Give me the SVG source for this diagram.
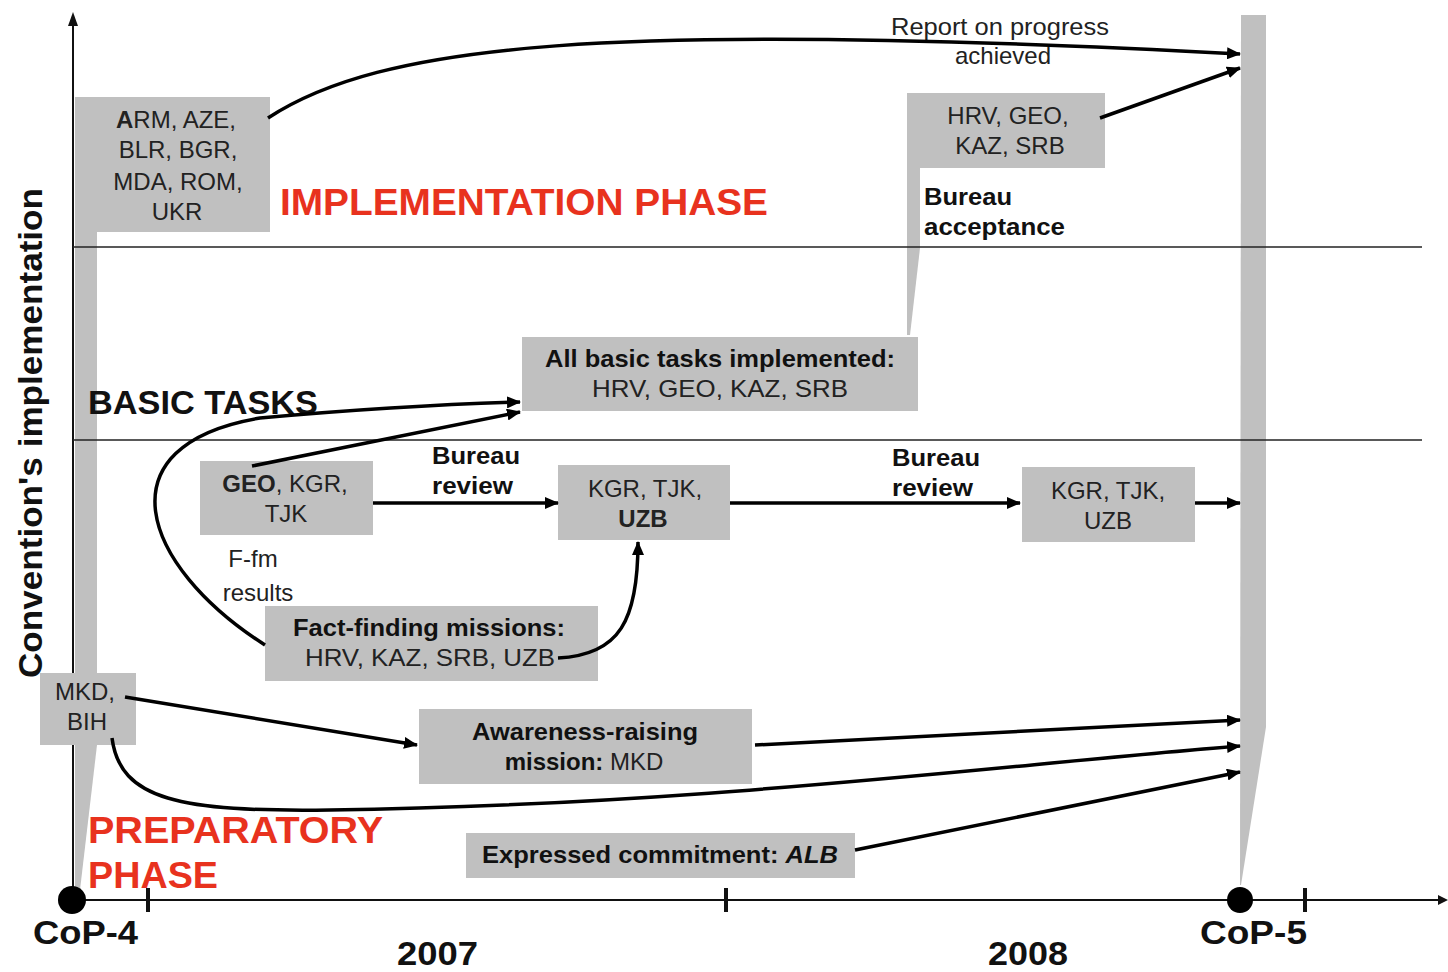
<svg xmlns="http://www.w3.org/2000/svg" width="1448" height="972" viewBox="0 0 1448 972">
<defs>
<marker id="ah" markerUnits="userSpaceOnUse" markerWidth="14" markerHeight="12" refX="13" refY="6" orient="auto">
<path d="M0,0 L14,6 L0,12 z" fill="#000"/>
</marker>
<style>
.box{fill:#c0c0c0}
.band{fill:#c0c0c0}
.t{font-family:"Liberation Sans",Arial,sans-serif;font-size:24px;fill:#222;text-anchor:middle}
.b{font-family:"Liberation Sans",Arial,sans-serif;font-size:24px;font-weight:bold;fill:#111}
.big{font-family:"Liberation Sans",Arial,sans-serif;font-weight:bold;font-size:34px;fill:#111}
.red{font-family:"Liberation Sans",Arial,sans-serif;font-weight:bold;font-size:36px;fill:#e8321e}
.ax{stroke:#111;stroke-width:2;fill:none}
.c{stroke:#000;stroke-width:3.5;fill:none}
.ca{stroke:#000;stroke-width:3.5;fill:none;marker-end:url(#ah)}
</style>
</defs>
<rect width="1448" height="972" fill="#fff"/>

<g id="bands">
<polygon class="band" points="75,97 97,97 97,745 80,890 75,890"/>
<polygon class="band" points="1241,15 1266,15 1266,727 1241,885 1240,885"/>
<polygon class="band" points="907,93 920,93 920,248 910,335 907,335"/>
</g>

<g id="axes">
<line class="ax" x1="73" y1="900" x2="73" y2="24"/>
<polygon points="73,12 68,26 78,26" fill="#111"/>
<line class="ax" x1="72" y1="900" x2="1440" y2="900"/>
<polygon points="1448,900 1438,895 1438,905" fill="#111"/>
<line x1="73" y1="247" x2="1422" y2="247" stroke="#222" stroke-width="1.5"/>
<line x1="73" y1="440" x2="1422" y2="440" stroke="#222" stroke-width="1.5"/>
<line x1="148" y1="888" x2="148" y2="912" stroke="#111" stroke-width="4"/>
<line x1="726" y1="888" x2="726" y2="912" stroke="#111" stroke-width="4"/>
<line x1="1305" y1="888" x2="1305" y2="912" stroke="#111" stroke-width="4"/>
<circle cx="72" cy="900" r="14" fill="#000"/>
<circle cx="1240" cy="900" r="13" fill="#000"/>
<text class="big" x="33" y="944" font-size="32" textLength="105" lengthAdjust="spacingAndGlyphs">CoP-4</text>
<text class="big" x="1200" y="944" font-size="32" textLength="107" lengthAdjust="spacingAndGlyphs">CoP-5</text>
<text class="big" x="397" y="965" font-size="32" textLength="81" lengthAdjust="spacingAndGlyphs">2007</text>
<text class="big" x="988" y="965" font-size="32" textLength="80" lengthAdjust="spacingAndGlyphs">2008</text>
<text class="big" transform="translate(42,678) rotate(-90)" textLength="490" lengthAdjust="spacingAndGlyphs">Convention's implementation</text>
</g>

<g id="labels">
<text class="red" x="280" y="215" textLength="488" lengthAdjust="spacingAndGlyphs">IMPLEMENTATION PHASE</text>
<text class="big" x="88" y="414" textLength="230" lengthAdjust="spacingAndGlyphs">BASIC TASKS</text>
<text class="red" x="88" y="843" textLength="295" lengthAdjust="spacingAndGlyphs">PREPARATORY</text>
<text class="red" x="88" y="888" textLength="130" lengthAdjust="spacingAndGlyphs">PHASE</text>
<text class="t" x="1000" y="35" textLength="218" lengthAdjust="spacingAndGlyphs">Report on progress</text>
<text class="t" x="1003" y="64">achieved</text>
<text class="b" x="924" y="205" textLength="88" lengthAdjust="spacingAndGlyphs">Bureau</text>
<text class="b" x="924" y="235" textLength="141" lengthAdjust="spacingAndGlyphs">acceptance</text>
<text class="b" x="432" y="464" textLength="88" lengthAdjust="spacingAndGlyphs">Bureau</text>
<text class="b" x="432" y="494" textLength="81" lengthAdjust="spacingAndGlyphs">review</text>
<text class="b" x="892" y="466" textLength="88" lengthAdjust="spacingAndGlyphs">Bureau</text>
<text class="b" x="892" y="496" textLength="81" lengthAdjust="spacingAndGlyphs">review</text>
<text class="t" x="253" y="567" font-size="26">F-fm</text>
<text class="t" x="258" y="601" font-size="26">results</text>
</g>

<g id="node-arm">
<rect class="box" x="75" y="97" width="195" height="135"/>
<text class="t" x="176" y="128"><tspan font-weight="bold">A</tspan>RM, AZE,</text>
<text class="t" x="178" y="158">BLR, BGR,</text>
<text class="t" x="178" y="190">MDA, ROM,</text>
<text class="t" x="177" y="220">UKR</text>
</g>

<g id="node-hrv">
<rect class="box" x="907" y="93" width="198" height="75"/>
<text class="t" x="1008" y="124">HRV, GEO,</text>
<text class="t" x="1010" y="154">KAZ, SRB</text>
</g>

<g id="node-allbasic">
<rect class="box" x="522" y="337" width="396" height="74"/>
<text class="b" x="720" y="367" text-anchor="middle" textLength="350" lengthAdjust="spacingAndGlyphs">All basic tasks implemented:</text>
<text class="t" x="720" y="397" textLength="256" lengthAdjust="spacingAndGlyphs">HRV, GEO, KAZ, SRB</text>
</g>

<g id="node-geo">
<rect class="box" x="200" y="461" width="173" height="74"/>
<text class="t" x="285" y="492"><tspan font-weight="bold">GEO</tspan>, KGR,</text>
<text class="t" x="286" y="522">TJK</text>
</g>

<g id="node-kgr1">
<rect class="box" x="558" y="465" width="172" height="75"/>
<text class="t" x="645" y="497">KGR, TJK,</text>
<text class="t" x="643" y="527" font-weight="bold">UZB</text>
</g>

<g id="node-kgr2">
<rect class="box" x="1022" y="467" width="173" height="75"/>
<text class="t" x="1108" y="499">KGR, TJK,</text>
<text class="t" x="1108" y="529">UZB</text>
</g>

<g id="node-factfinding">
<rect class="box" x="265" y="606" width="333" height="75"/>
<text class="b" x="429" y="636" text-anchor="middle" textLength="272" lengthAdjust="spacingAndGlyphs">Fact-finding missions:</text>
<text class="t" x="430" y="666" textLength="250" lengthAdjust="spacingAndGlyphs">HRV, KAZ, SRB, UZB</text>
</g>

<g id="node-mkd">
<rect class="box" x="40" y="673" width="96" height="72"/>
<text class="t" x="85" y="700">MKD,</text>
<text class="t" x="87" y="730">BIH</text>
</g>

<g id="node-awareness">
<rect class="box" x="419" y="709" width="333" height="75"/>
<text class="b" x="585" y="740" text-anchor="middle" textLength="226" lengthAdjust="spacingAndGlyphs">Awareness-raising</text>
<text class="t" x="584" y="770"><tspan font-weight="bold" fill="#111">mission:</tspan> MKD</text>
</g>

<g id="node-expressed">
<rect class="box" x="466" y="833" width="389" height="45"/>
<text class="b" x="660" y="863" text-anchor="middle" textLength="356" lengthAdjust="spacingAndGlyphs">Expressed commitment: <tspan font-style="italic">ALB</tspan></text>
</g>

<g id="connectors">
<path class="ca" d="M268,118 C380,45 600,20 1240,54"/>
<path class="ca" d="M1100,118 L1240,68"/>
<path class="ca" d="M265,645 C140,565 100,445 260,418 C350,410 450,404 520,402"/>
<path class="ca" d="M252,466 L520,412"/>
<path class="ca" d="M373,503 L558,503"/>
<path class="ca" d="M730,503 L1020,503"/>
<path class="ca" d="M1195,503 L1240,503"/>
<path class="ca" d="M558,658 C620,655 638,620 638,542"/>
<path class="ca" d="M125,697 L417,745"/>
<path class="ca" d="M755,745 L1240,720"/>
<path class="ca" d="M112,738 C120,800 180,812 330,810 C700,805 1000,765 1240,746"/>
<path class="ca" d="M855,850 L1240,772"/>
</g>
</svg>
